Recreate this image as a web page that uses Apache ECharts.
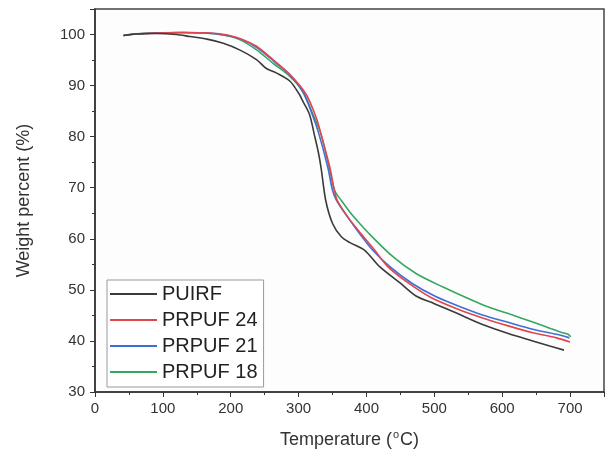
<!DOCTYPE html>
<html>
<head>
<meta charset="utf-8">
<script src="https://cdn.jsdelivr.net/npm/echarts@6/dist/echarts.min.js"></script>
<style>html,body{margin:0;padding:0;background:#fff}#c{width:608px;height:456px}</style>
</head>
<body>
<div id="c"></div>
<script>
const seriesNames = ['PUIRF', 'PRPUF 24', 'PRPUF 21', 'PRPUF 18'];
const xTicks = [0, 100, 200, 300, 400, 500, 600, 700];
const yTicks = [30, 40, 50, 60, 70, 80, 90, 100];

const puirf = [[42,99.8],[60,100.1],[90,100.2],[120,100],[140,99.6],[165,99.1],[189,98.3],[213,97.0],[238,95.1],[252,93.4],[267,92.5],[287,90.9],[301,88.3],[306,87],[316,84.4],[323,80.5],[329,77],[333,74],[340,67.5],[350,63],[363,60.4],[375,59.3],[397,57.8],[419,54.6],[449,51.4],[473,48.8],[500,47.3],[530,45.6],[571,43.2],[610,41.4],[645,40.0],[670,39.0],[691,38.2]];
const prpuf24 = [[42,99.8],[60,100.1],[90,100.3],[130,100.4],[170,100.3],[195,99.9],[218,99.0],[238,97.7],[262,95.1],[287,92.2],[311,88.3],[326,83.7],[333,80.5],[346,74],[352,70],[357,67.5],[374,64],[392,61],[412,57.8],[431,54.6],[460,51.5],[495,48.5],[535,46.2],[571,44.5],[610,42.9],[645,41.6],[680,40.6],[700,39.8]];
const prpuf21 = [[42,99.8],[60,100.1],[90,100.3],[130,100.4],[165,100.3],[190,99.9],[215,99.1],[240,97.3],[265,94.6],[288,92],[307,88.6],[320,84.4],[330,80.5],[343,74],[350,69.5],[356,67.5],[372,64.3],[390,61],[409,57.8],[434,54.6],[468,51.2],[502,48.7],[540,46.6],[571,45.1],[610,43.6],[645,42.3],[680,41.3],[699,40.6]];
const prpuf18 = [[42,99.8],[56,100.1],[80,100.3],[120,100.4],[160,100.3],[189,99.9],[213,99.0],[238,97.0],[262,94.4],[287,91.8],[306,88.9],[321,84.4],[333,80.5],[345,74],[353,69.5],[363,67.5],[380,64.5],[404,61],[439,56.5],[473,53.2],[512,50.6],[571,47.1],[610,45.3],[645,43.7],[672,42.4],[689,41.6],[697,41.3],[701,40.8]];

const dataList = [puirf, prpuf24, prpuf21, prpuf18];
const colors = ['#3a3a3a', '#e0464b', '#3f6fd6', '#35a860'];

const chart = echarts.init(document.getElementById('c'));
const FF = 'Liberation Sans, Arial, sans-serif';
const axisTxt = {color: '#333', fontFamily: FF};
chart.setOption({
  backgroundColor: '#fff',
  animation: false,
  grid: {left: 95, right: 4, top: 9, bottom: 63, show: true, borderColor: '#444', borderWidth: 1.5, backgroundColor: '#fdfdfd'},
  legend: {
    data: seriesNames,
    orient: 'vertical',
    left: 107, top: 280,
    icon: 'rect', itemWidth: 47, itemHeight: 2, itemGap: 6,
    padding: [4, 6, 5, 3],
    borderColor: '#999', borderWidth: 1,
    backgroundColor: '#fff',
    textStyle: {fontSize: 20, color: '#222', fontFamily: FF}
  },
  xAxis: {
    type: 'value', min: 0, max: 750, interval: 100,
    name: '{a|Temperature (}{s|o}{a|C)}', nameLocation: 'middle', nameGap: 37,
    nameTextStyle: {
      fontSize: 18, color: '#333', fontFamily: FF,
      rich: {
        a: {fontSize: 18, lineHeight: 22, color: '#333', fontFamily: FF},
        s: {fontSize: 11, lineHeight: 11, color: '#333', fontFamily: FF, verticalAlign: 'bottom', padding: [0, 1, 11, 1]}
      }
    },
    axisLine: {show: true, lineStyle: {color: '#333', width: 1.5}},
    axisTick: {show: true, inside: false, length: 5, lineStyle: {color: '#333'}},
    minorTick: {show: true, splitNumber: 2, length: 3, lineStyle: {color: '#333'}},
    splitLine: {show: false},
    axisLabel: Object.assign({fontSize: 15, margin: 9, formatter: v => xTicks.includes(v) ? String(v) : ''}, axisTxt)
  },
  yAxis: {
    type: 'value', min: 30, max: 105, interval: 10,
    name: 'Weight percent (%)', nameLocation: 'middle', nameGap: 62,
    nameTextStyle: Object.assign({fontSize: 18}, axisTxt),
    axisLine: {show: true, lineStyle: {color: '#333', width: 1.5}},
    axisTick: {show: true, inside: false, length: 5, lineStyle: {color: '#333'}},
    minorTick: {show: true, splitNumber: 2, length: 3, lineStyle: {color: '#333'}},
    splitLine: {show: false},
    axisLabel: Object.assign({fontSize: 15, margin: 10, formatter: v => yTicks.includes(v) ? String(v) : ''}, axisTxt)
  },
  series: seriesNames.map((n, i) => ({
    name: n, type: 'line', data: dataList[i], smooth: 0.3,
    symbol: 'none', lineStyle: {width: 1.6, color: colors[i]}, itemStyle: {color: colors[i]}
  })).reverse()
});
</script>
</body>
</html>
